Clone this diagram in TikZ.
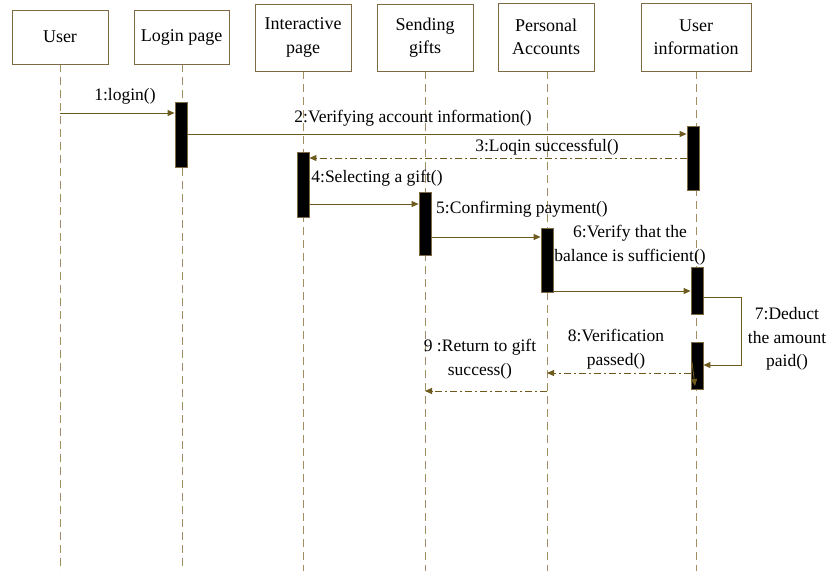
\documentclass[tikz,border=0pt]{standalone}
\usepackage{fontspec}
\setmainfont{Liberation Serif}
\usetikzlibrary{arrows.meta}
\definecolor{boxc}{HTML}{7D6A42}
\definecolor{lifec}{HTML}{A08E62}
\definecolor{arrc}{HTML}{6E5A1C}
\tikzset{
  obj/.style={draw=boxc, line width=0.9pt, fill=white, align=center, font=\fontsize{18}{23.5}\selectfont, inner sep=0pt},
  life/.style={draw=lifec, line width=0.9pt, dash pattern=on 8pt off 5pt},
  actbar/.style={draw=boxc, fill=black, line width=0.8pt, minimum width=12pt, inner sep=0pt},
  msg/.style={draw=arrc, line width=0.9pt, -{Triangle[length=7pt,width=6pt]}},
  ret/.style={draw=arrc, line width=0.9pt, dash pattern=on 7pt off 3pt on 2pt off 3pt, -{Triangle[length=7pt,width=6pt]}},
  lbl/.style={align=center, font=\fontsize{17.5}{23.5}\selectfont, inner sep=0pt}
}
\begin{document}
\begin{tikzpicture}[x=1pt,y=-1pt]
\useasboundingbox (0,0) rectangle (829,571);
% lifelines
\coordinate (lU) at (60,64); \coordinate (lUe) at (60,571);
\coordinate (lL) at (182,64); \coordinate (lLe) at (182,571);
\coordinate (lI) at (303,71); \coordinate (lIe) at (303,571);
\coordinate (lS) at (425,71); \coordinate (lSe) at (425,571);
\coordinate (lP) at (547,71); \coordinate (lPe) at (547,571);
\coordinate (lN) at (696,71); \coordinate (lNe) at (696,571);
\draw[life] (lU) -- (lUe);
\draw[life] (lL) -- (lLe);
\draw[life] (lI) -- (lIe);
\draw[life] (lS) -- (lSe);
\draw[life] (lP) -- (lPe);
\draw[life] (lN) -- (lNe);
% header boxes
\node[obj, minimum width=96pt, minimum height=54pt] (user) at (60,37) {User};
\node[obj, minimum width=95pt, minimum height=54pt] (login) at (181.5,37) {Login page};
\node[obj, minimum width=96pt, minimum height=67pt] (inter) at (303,37.5) {Interactive\\page};
\node[obj, minimum width=96pt, minimum height=67pt] (send) at (425,37.5) {Sending\\gifts};
\node[obj, minimum width=96pt, minimum height=68pt] (pers) at (546,37) {Personal\\Accounts};
\node[obj, minimum width=110pt, minimum height=68pt] (info) at (696,37) {User\\information};
% activation bars
\node[actbar, minimum height=65pt] (aL) at (181,134.5) {};
\node[actbar, minimum height=65pt] (aI) at (303,184.5) {};
\node[actbar, minimum height=63pt] (aS) at (425,223.5) {};
\node[actbar, minimum height=64pt] (aP) at (547,260) {};
\node[actbar, minimum height=64pt] (aN1) at (693,158) {};
\node[actbar, minimum height=47pt] (aN2) at (697,290.5) {};
\node[actbar, minimum height=47pt] (aN3) at (697,365.5) {};
% messages
\coordinate (m1s) at (60,113);
\draw[msg] (m1s) -- (aL.west |- m1s);
\node[lbl] (t1) at (125,96) {1:login()};
\draw[msg] (aL.east |- 0,134) -- (aN1.west |- 0,134);
\node[lbl] (t2) at (413,118) {2:Verifying account information()};
\draw[ret] (aN1.west |- 0,158) -- (aI.east |- 0,158);
\node[lbl] (t3) at (547,147) {3:Loqin successful()};
\draw[msg] (aI.east |- 0,204) -- (aS.west |- 0,204);
\node[lbl] (t4) at (377,178) {4:Selecting a gift()};
\draw[msg] (aS.east |- 0,237) -- (aP.west |- 0,237);
\node[lbl] (t5) at (522,209) {5:Confirming payment()};
\draw[msg] (aP.east |- 0,291) -- (aN2.west |- 0,291);
\node[lbl] (t6) at (630,245) {6:Verify that the\\balance is sufficient()};
\coordinate (c7a) at (741,297);
\coordinate (c7b) at (741,365);
\draw[msg] (aN2.east |- c7a) -- (c7a) -- (c7b) -- (aN3.east |- c7b);
\node[lbl] (t7) at (787,339) {7:Deduct\\the amount\\paid()};
\draw[msg] (692,362) -- (695,386);
\coordinate (r8) at (547,373);
\draw[ret] (aN3.west |- r8) -- (r8);
\node[lbl] (t8) at (616,349) {8:Verification\\passed()};
\coordinate (r9a) at (547,391);
\coordinate (r9b) at (425,391);
\draw[ret] (r9a) -- (r9b);
\node[lbl] (t9) at (480,359) {9 :Return to gift\\success()};
\end{tikzpicture}
\end{document}
